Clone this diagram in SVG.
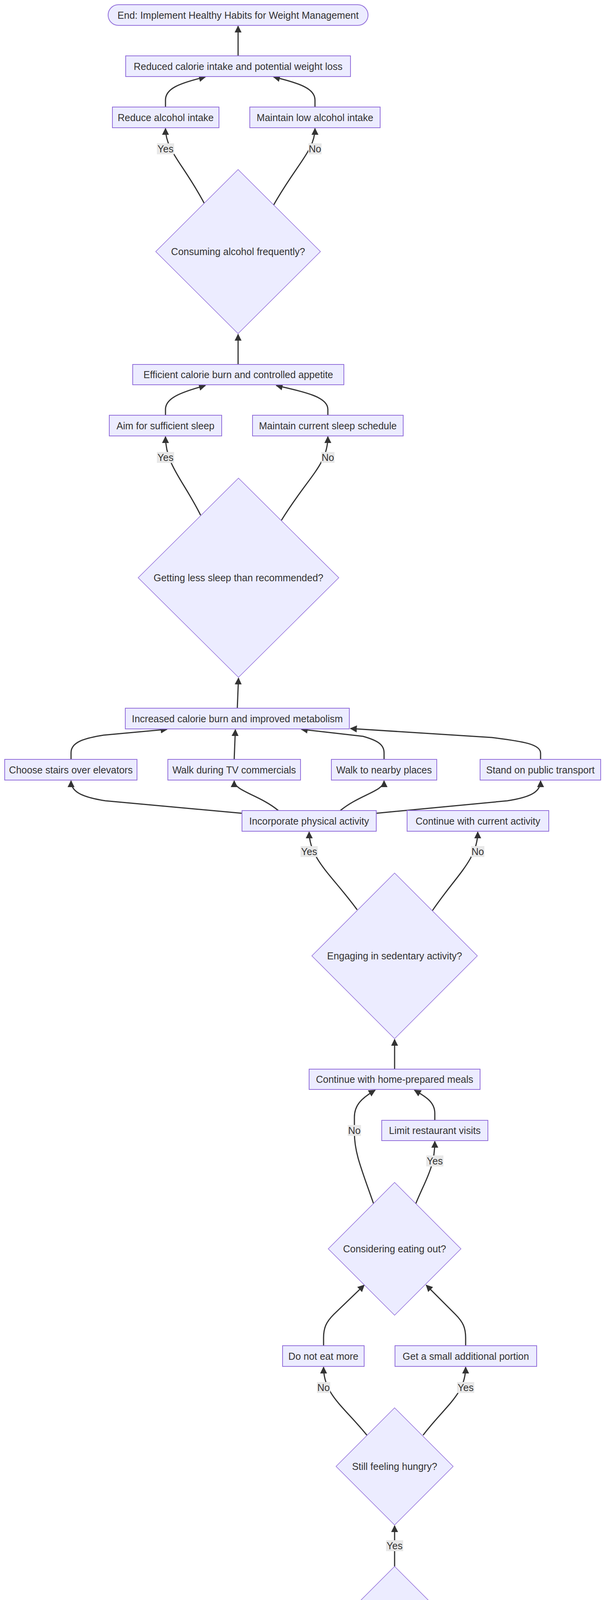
<svg xmlns="http://www.w3.org/2000/svg" width="1568" height="4838" viewBox="0 0 1568 4838">
<style>
.n rect,.n polygon{fill:#ECECFF;stroke:#9370DB;stroke-width:2}
.n polygon{stroke-width:1.5}
.n text,.lbl text{font-family:"Liberation Sans",Arial,sans-serif;font-size:25px;fill:#333;text-anchor:middle;dominant-baseline:central}
.e path{fill:none;stroke:#333;stroke-width:3}
.lbl rect{fill:#e8e8e8;stroke:none}
</style>
<defs>
<marker id="ah" viewBox="0 0 10 10" refX="9" refY="5" markerUnits="userSpaceOnUse" markerWidth="18" markerHeight="18" orient="auto">
<path d="M0,0 L10,5 L0,10 z" fill="#333"/>
</marker>
</defs>
<rect width="1568" height="4838" fill="#fff"/>
<g class="e">
<path d="M610,143 L610,67" marker-end="url(#ah)"/>
<path d="M424,274 L424,256 C424,228 455,214 526,197" marker-end="url(#ah)"/>
<path d="M807,274 L807,256 C807,228 772,214 701,197" marker-end="url(#ah)"/>
<path d="M523,520 C470,420 424,385 424,329" marker-end="url(#ah)"/>
<path d="M701,525 C760,420 807,385 807,329" marker-end="url(#ah)"/>
<path d="M610,933 L610,856" marker-end="url(#ah)"/>
<path d="M424,1063 L424,1048 C424,1020 460,1005 526,987" marker-end="url(#ah)"/>
<path d="M840,1063 L840,1048 C840,1018 790,1005 708,987" marker-end="url(#ah)"/>
<path d="M514,1319 C470,1230 424,1190 424,1118" marker-end="url(#ah)"/>
<path d="M721,1332 C790,1220 840,1190 840,1118" marker-end="url(#ah)"/>
<path d="M608,1813 L611,1736" marker-end="url(#ah)"/>
<path d="M182,1944 L182,1927 C182,1900 215,1890 265,1882 L428,1867" marker-end="url(#ah)"/>
<path d="M600,1944 L603,1868" marker-end="url(#ah)"/>
<path d="M984,1944 L984,1927 C984,1905 965,1895 930,1885 L772,1867" marker-end="url(#ah)"/>
<path d="M1385,1944 L1385,1928 C1385,1905 1340,1898 1260,1888 L898,1865" marker-end="url(#ah)"/>
<path d="M620,2082 L270,2050 C205,2040 182,2025 182,1999" marker-end="url(#ah)"/>
<path d="M713,2075 C665,2035 600,2025 600,1999" marker-end="url(#ah)"/>
<path d="M872,2075 C920,2035 984,2025 984,1999" marker-end="url(#ah)"/>
<path d="M964,2082 L1300,2050 C1365,2040 1385,2025 1385,1999" marker-end="url(#ah)"/>
<path d="M915,2329 C850,2240 793,2200 792,2130" marker-end="url(#ah)"/>
<path d="M1108,2331 C1170,2240 1224,2200 1224,2130" marker-end="url(#ah)"/>
<path d="M1011,2737 L1011,2661" marker-end="url(#ah)"/>
<path d="M1114,2868 L1114,2850 C1114,2822 1092,2808 1062,2791" marker-end="url(#ah)"/>
<path d="M957,3081 C925,2990 908,2950 908,2900 L908,2860 C908,2830 925,2812 961,2791" marker-end="url(#ah)"/>
<path d="M1065,3082 C1090,3020 1114,2990 1114,2922" marker-end="url(#ah)"/>
<path d="M829,3445 L829,3425 C829,3400 835,3385 855,3365 L933,3290" marker-end="url(#ah)"/>
<path d="M1193,3445 L1193,3425 C1193,3400 1187,3385 1167,3365 L1092,3290" marker-end="url(#ah)"/>
<path d="M940,3674 C880,3600 829,3570 829,3500" marker-end="url(#ah)"/>
<path d="M1084,3674 C1140,3600 1193,3570 1193,3500" marker-end="url(#ah)"/>
<path d="M1011,4010 L1011,3906" marker-end="url(#ah)"/>
<path d="M1003,4460 C992,4410 990,4380 994,4341" marker-end="url(#ah)"/>
<path d="M1028,4337 C1030,4380 1030,4410 1023,4460" marker-end="url(#ah)"/>
<path d="M1011,4592 L1011,4515" marker-end="url(#ah)"/>
<path d="M1011,4722 L1011,4646" marker-end="url(#ah)"/>
</g>
<g class="lbl">
<rect x="402" y="367" width="44" height="28"/><text x="424" y="381">Yes</text>
<rect x="790" y="367" width="34" height="28"/><text x="807" y="381">No</text>
<rect x="402" y="1157" width="44" height="28"/><text x="424" y="1171">Yes</text>
<rect x="823" y="1157" width="34" height="28"/><text x="840" y="1171">No</text>
<rect x="770" y="2166" width="44" height="28"/><text x="792" y="2180">Yes</text>
<rect x="1207" y="2166" width="34" height="28"/><text x="1224" y="2180">No</text>
<rect x="891" y="2880" width="34" height="28"/><text x="908" y="2894">No</text>
<rect x="1092" y="2958" width="44" height="28"/><text x="1114" y="2972">Yes</text>
<rect x="812" y="3538" width="34" height="28"/><text x="829" y="3552">No</text>
<rect x="1171" y="3538" width="44" height="28"/><text x="1193" y="3552">Yes</text>
<rect x="989" y="3943" width="44" height="28"/><text x="1011" y="3957">Yes</text>
<rect x="1018" y="4393" width="34" height="28"/><text x="1035" y="4407">No</text>
</g>
<g id="end" class="n"><rect x="277" y="12" width="666" height="53" rx="26.5"/><text x="610" y="38.5">End: Implement Healthy Habits for Weight Management</text></g>
<g id="reduced" class="n"><rect x="322" y="143" width="576" height="53"/><text x="610" y="169.5">Reduced calorie intake and potential weight loss</text></g>
<g id="reduceAlcohol" class="n"><rect x="288" y="274" width="273" height="53"/><text x="424.5" y="300.5">Reduce alcohol intake</text></g>
<g id="maintainAlcohol" class="n"><rect x="640" y="274" width="334" height="53"/><text x="807" y="300.5">Maintain low alcohol intake</text></g>
<g id="alcoholDecision" class="n"><polygon points="610,434 821,644 610,854 399,644"/><text x="610" y="644">Consuming alcohol frequently?</text></g>
<g id="efficient" class="n"><rect x="340" y="933" width="541" height="52"/><text x="610.5" y="959">Efficient calorie burn and controlled appetite</text></g>
<g id="aimSleep" class="n"><rect x="280" y="1063" width="288" height="53"/><text x="424" y="1089.5">Aim for sufficient sleep</text></g>
<g id="maintainSleep" class="n"><rect x="647" y="1063" width="386" height="53"/><text x="840" y="1089.5">Maintain current sleep schedule</text></g>
<g id="sleepDecision" class="n"><polygon points="611,1224 868,1479 611,1734 354,1479"/><text x="611" y="1479">Getting less sleep than recommended?</text></g>
<g id="increased" class="n"><rect x="321" y="1813" width="574" height="53"/><text x="608" y="1839.5">Increased calorie burn and improved metabolism</text></g>
<g id="stairs" class="n"><rect x="12" y="1944" width="339" height="53"/><text x="181.5" y="1970.5">Choose stairs over elevators</text></g>
<g id="tvWalk" class="n"><rect x="430" y="1944" width="340" height="53"/><text x="600" y="1970.5">Walk during TV commercials</text></g>
<g id="nearbyWalk" class="n"><rect x="849" y="1944" width="270" height="53"/><text x="984" y="1970.5">Walk to nearby places</text></g>
<g id="standTransport" class="n"><rect x="1230" y="1944" width="309" height="53"/><text x="1384.5" y="1970.5">Stand on public transport</text></g>
<g id="incorporate" class="n"><rect x="620" y="2075" width="344" height="53"/><text x="792" y="2101.5">Incorporate physical activity</text></g>
<g id="continueActivity" class="n"><rect x="1043" y="2075" width="363" height="53"/><text x="1224.5" y="2101.5">Continue with current activity</text></g>
<g id="sedentaryDecision" class="n"><polygon points="1011,2235 1223,2447 1011,2659 799,2447"/><text x="1011" y="2447">Engaging in sedentary activity?</text></g>
<g id="homePrepared" class="n"><rect x="792" y="2737" width="438" height="52"/><text x="1011" y="2763">Continue with home-prepared meals</text></g>
<g id="limitRestaurant" class="n"><rect x="978" y="2868" width="272" height="52"/><text x="1114" y="2894">Limit restaurant visits</text></g>
<g id="eatingOutDecision" class="n"><polygon points="1011,3027 1181,3197 1011,3367 841,3197"/><text x="1011" y="3197">Considering eating out?</text></g>
<g id="doNotEat" class="n"><rect x="724" y="3445" width="209" height="53"/><text x="828.5" y="3471.5">Do not eat more</text></g>
<g id="smallPortion" class="n"><rect x="1012" y="3445" width="363" height="53"/><text x="1193.5" y="3471.5">Get a small additional portion</text></g>
<g id="hungryDecision" class="n"><polygon points="1011,3604 1161,3754 1011,3904 861,3754"/><text x="1011" y="3754">Still feeling hungry?</text></g>
<g id="twentyDecision" class="n"><polygon points="1011,4010 1183,4182 1011,4354 839,4182"/><text x="1011" y="4182">Has it been 20 minutes?</text></g>
<g id="eatMeal" class="n"><rect x="920" y="4460" width="182" height="53"/><text x="1011" y="4486.5">Eat your meal</text></g>
<g id="input" class="n"><rect x="899" y="4592" width="224" height="52"/><text x="1011" y="4618">Input: Begin meal</text></g>
<g id="start" class="n"><rect x="689" y="4722" width="643" height="53" rx="26.5"/><text x="1010.5" y="4748.5">Start: Understand Healthy Eating and Lifestyle Habits</text></g>
</svg>
